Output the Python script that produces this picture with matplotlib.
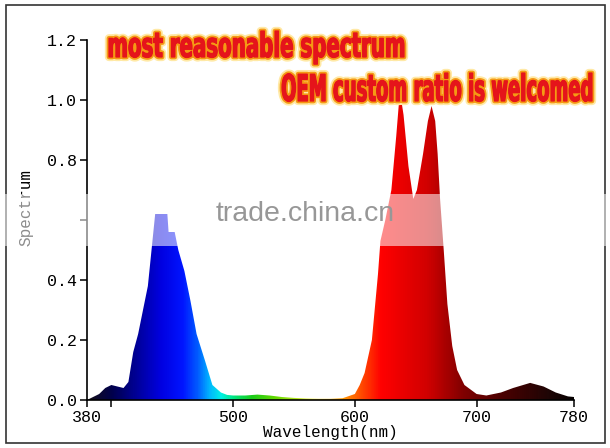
import matplotlib
matplotlib.use('Agg')
import matplotlib.pyplot as plt
import matplotlib.patheffects as pe
from matplotlib.colors import LinearSegmentedColormap
from matplotlib.patches import Polygon, Rectangle, PathPatch
from matplotlib.textpath import TextPath
from matplotlib.font_manager import FontProperties
from matplotlib.transforms import Affine2D
import numpy as np

# spectrum
wavelength = [380, 385, 390, 395, 400, 405, 410, 414, 418, 422, 426, 430, 433, 436,
              446, 447, 452, 455, 460, 465, 470, 477, 483, 490, 495, 500, 510, 520,
              530, 540, 550, 560, 570, 580, 590, 600, 604, 608, 614, 619, 621, 625,
              630, 634, 637, 640, 644, 648, 651, 656, 660, 663, 666, 668, 670, 673,
              676, 680, 684, 690, 700, 708, 720, 730, 744, 755, 765, 775, 780]
spectrum = [0.0, 0.01, 0.02, 0.04, 0.05, 0.045, 0.04, 0.06, 0.16, 0.22, 0.30, 0.38, 0.50, 0.62,
            0.62, 0.56, 0.56, 0.50, 0.43, 0.33, 0.22, 0.13, 0.05, 0.025, 0.017, 0.015, 0.015, 0.018,
            0.015, 0.01, 0.007, 0.005, 0.004, 0.004, 0.006, 0.02, 0.05, 0.09, 0.20, 0.42, 0.53, 0.60,
            0.70, 0.88, 1.03, 0.95, 0.78, 0.67, 0.70, 0.82, 0.93, 0.98, 0.93, 0.82, 0.67, 0.50,
            0.32, 0.18, 0.10, 0.05, 0.02, 0.015, 0.025, 0.04, 0.057, 0.045, 0.025, 0.012, 0.01]
x_ticks = [380, 400, 500, 600, 700, 780]
x_tick_labels = ['380', '', '500', '600', '700', '780']
y_ticks = [0.0, 0.2, 0.4, 0.6, 0.8, 1.0, 1.2]
y_tick_labels = ['0.0', '0.2', '0.4', '', '0.8', '1.0', '1.2']  # 0.6 is under the watermark

# rainbow under the curve
stops = [(380, (0.08, 0.06, 0.10)), (400, (0.0, 0.0, 0.30)), (420, (0.0, 0.0, 0.60)),
         (440, (0.0, 0.0, 0.88)), (458, (0.0, 0.08, 1.0)), (470, (0.0, 0.35, 1.0)),
         (480, (0.0, 0.70, 1.0)), (490, (0.0, 0.95, 0.90)), (500, (0.0, 0.90, 0.50)),
         (515, (0.10, 0.80, 0.10)), (535, (0.40, 0.85, 0.0)), (565, (0.95, 0.95, 0.20)),
         (590, (1.0, 0.60, 0.0)), (605, (1.0, 0.30, 0.0)), (622, (1.0, 0.0, 0.0)),
         (660, (0.82, 0.0, 0.0)), (690, (0.50, 0.0, 0.0)), (720, (0.30, 0.0, 0.0)),
         (760, (0.12, 0.02, 0.02)), (780, (0.02, 0.0, 0.0))]
cmap = LinearSegmentedColormap.from_list(
    'spec', [((w - 380) / 400, c) for w, c in stops])

mono = ['Liberation Mono', 'DejaVu Sans Mono']
W, H = 610, 448

fig = plt.figure(figsize=(W / 100, H / 100), dpi=100)
ax = fig.add_axes([87 / W, 1 - 400 / H, (574 - 87) / W, 360 / H])

xs = np.r_[wavelength[0], wavelength, wavelength[-1]]
ys = np.r_[0, spectrum, 0]
poly = Polygon(np.column_stack([xs, ys]), closed=True, facecolor='none', edgecolor='none')
ax.add_patch(poly)
grad = np.linspace(380, 780, 800).reshape(1, -1)
im = ax.imshow(grad, extent=[380, 780, 0, 1.2], aspect='auto', cmap=cmap,
               origin='lower', interpolation='bilinear')
im.set_clip_path(poly)

ax.set_xlim(380, 780)
ax.set_ylim(0, 1.2)
ax.set_xticks(x_ticks)
ax.set_xticklabels(x_tick_labels)
ax.set_yticks(y_ticks)
ax.set_yticklabels(y_tick_labels)
for s in ['top', 'right']:
    ax.spines[s].set_visible(False)
for s in ['left', 'bottom']:
    ax.spines[s].set_linewidth(1.2)
ax.tick_params(direction='out', length=5, width=1.1, pad=2)
for lab in ax.get_xticklabels() + ax.get_yticklabels():
    lab.set_family(mono)
    lab.set_fontsize(12)
ax.set_xlabel('Wavelength(nm)', family=mono, fontsize=11.5, labelpad=0)
ax.set_ylabel('Spectrum', family=mono, fontsize=11.5)
ax.yaxis.set_label_coords((33 - 87) / 487, (400 - 207) / 360)

# outer frame
fig.patches.append(Rectangle((6 / W, 1 - 443 / H), 599 / W, 438 / H,
                             transform=fig.transFigure, fill=False,
                             edgecolor='#333333', lw=1.2, zorder=3))

# watermark band
fig.patches.append(Rectangle((0, 1 - 246 / H), 1, 52 / H, transform=fig.transFigure,
                             facecolor='white', edgecolor='none', alpha=0.55, zorder=5))
fig.text(305 / W, 1 - 214 / H, 'trade.china.cn', ha='center', va='center',
         family=['Liberation Sans', 'DejaVu Sans'], fontsize=20.5, color='#979797', zorder=6)

# headline, squeezed to look like a condensed poster face
px_to_fig = Affine2D().scale(1 / W, 1 / H) + fig.transFigure
bold = FontProperties(family='DejaVu Sans', weight='bold')
red = '#e5141b'
glow = [pe.withStroke(linewidth=6, foreground='#ffe9a6', joinstyle='round'),
        pe.withStroke(linewidth=3.4, foreground='#f59a14', joinstyle='round'),
        pe.withStroke(linewidth=0.9, foreground=red, joinstyle='round')]


def headline(text, x0, x1, baseline, asc_px):
    tp = TextPath((0, 0), text, size=100, prop=bold)
    bb = tp.get_extents()
    tr = (Affine2D().translate(-bb.x0, 0)
          .scale((x1 - x0) / bb.width, asc_px / 76)
          .translate(x0, H - baseline))
    patch = PathPatch(tr.transform_path(tp), transform=px_to_fig,
                      facecolor=red, edgecolor='none', zorder=7,
                      path_effects=glow)
    fig.patches.append(patch)


headline('most reasonable spectrum', 109, 404, 57, 26)
headline('OEM custom ratio is welcomed', 282, 592, 101, 28)

fig.savefig('out.png', dpi=100)
